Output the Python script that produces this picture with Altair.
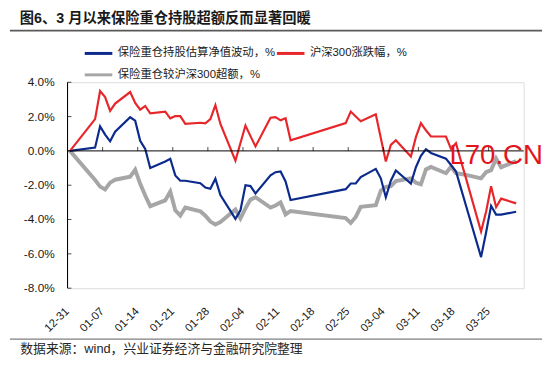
import altair as alt
import pandas as pd

# ---- data (values in %) ----
dates = [
    "2025-12-31",
    "2026-01-05", "2026-01-06", "2026-01-07", "2026-01-08", "2026-01-09",
    "2026-01-12", "2026-01-13", "2026-01-14", "2026-01-15", "2026-01-16",
    "2026-01-19", "2026-01-20", "2026-01-21", "2026-01-22", "2026-01-23",
    "2026-01-26", "2026-01-27", "2026-01-28", "2026-01-29", "2026-01-30",
    "2026-02-02", "2026-02-03", "2026-02-04", "2026-02-05", "2026-02-06",
    "2026-02-09", "2026-02-10", "2026-02-11", "2026-02-12", "2026-02-13",
    "2026-02-24", "2026-02-25", "2026-02-26", "2026-02-27",
    "2026-03-02", "2026-03-03", "2026-03-04", "2026-03-05", "2026-03-06",
    "2026-03-09", "2026-03-10", "2026-03-11", "2026-03-12", "2026-03-13",
    "2026-03-16", "2026-03-17", "2026-03-18", "2026-03-19", "2026-03-20",
    "2026-03-23", "2026-03-24", "2026-03-25", "2026-03-26", "2026-03-27",
    "2026-03-30",
]
blue = [
    0.00,
    0.19, 1.43, 0.95, 0.56, 1.12,
    1.96, 1.76, 0.59, 0.12, -1.00,
    -0.62, -0.46, -1.43, -1.74, -1.74,
    -1.88, -2.14, -2.21, -1.62, -2.57,
    -3.96, -3.46, -2.00, -2.05, -2.48,
    -1.43, -1.24, -1.20, -1.78, -2.86,
    -2.23, -1.90, -1.90, -1.52,
    -1.05, -1.60, -2.70, -1.74, -1.14,
    -1.90, -0.95, -0.29, 0.10, -0.12,
    -0.45, -0.82, -1.20, -2.20, -3.20,
    -6.19, -4.76, -3.20, -3.71, -3.71,
    -3.55,
]
red = [
    0.00,
    1.85, 3.49, 3.14, 2.33, 2.76,
    3.43, 2.79, 2.40, 2.62, 2.19,
    2.29, 1.90, 2.03, 2.03, 1.57,
    1.64, 1.60, 1.85, 2.67, 1.57,
    -0.57, 0.46, 1.48, 0.86, 0.26,
    1.93, 1.97, 1.78, 1.90, 0.62,
    1.62, 2.29, 2.00, 1.73,
    2.13, 0.75, -0.62, 0.35, 0.62,
    -0.33, 0.80, 1.62, 1.20, 0.84,
    0.84, 0.12, 0.45, -0.60, -1.60,
    -4.70, -3.55, -2.06, -3.28, -2.78,
    -3.06,
]
gray = [
    0.00,
    -1.70, -2.08, -2.25, -1.85, -1.68,
    -1.50, -1.10, -1.92, -2.60, -3.22,
    -2.88, -2.37, -3.46, -3.77, -3.30,
    -3.52, -3.78, -4.12, -4.29, -4.15,
    -3.42, -3.93, -3.35, -2.84, -2.70,
    -3.30, -3.18, -3.00, -3.70, -3.50,
    -3.92, -4.20, -3.85, -3.26,
    -3.16, -2.32, -2.10, -2.05, -1.76,
    -1.60, -1.85, -1.95, -1.08, -0.94,
    -1.30, -0.92, -1.30, -1.35, -1.40,
    -1.60, -1.24, -1.12, -0.45, -0.95,
    -0.60,
]
series_names = ["保险重仓持股估算净值波动，%", "沪深300涨跌幅，%", "保险重仓较沪深300超额，%"]
series_colors = ["#0b2a8c", "#e8262a", "#a6a6a6"]
tick_dates = ["2025-12-31", "2026-01-07", "2026-01-14", "2026-01-21", "2026-01-28",
              "2026-02-04", "2026-02-11", "2026-02-18", "2026-02-25", "2026-03-04",
              "2026-03-11", "2026-03-18", "2026-03-25"]
tick_labels = ["12-31", "01-07", "01-14", "01-21", "01-28", "02-04", "02-11",
               "02-18", "02-25", "03-04", "03-11", "03-18", "03-25"]
y_ticks = [-8, -6, -4, -2, 0, 2, 4]
y_labels = ["-8.0%", "-6.0%", "-4.0%", "-2.0%", "0.0%", "2.0%", "4.0%"]
x_range = ["2025-12-31", "2026-04-01"]

title_text = "图6、3 月以来保险重仓持股超额反而显著回暖"
source_text = "数据来源：wind，兴业证券经济与金融研究院整理"
mark_text = "L70.CN"

FONT = "Liberation Sans, Noto Sans CJK SC, sans-serif"

# ---- tables ----
def iso_noon(d):
    return (pd.Timestamp(d) + pd.Timedelta(hours=12)).strftime("%Y-%m-%dT%H:%M:%SZ")

rows = []
# drawing order: gray first (bottom), then blue, then red
for name, vals in [(series_names[2], gray), (series_names[0], blue), (series_names[1], red)]:
    for d, v in zip(dates, vals):
        rows.append({"date": iso_noon(d), "value": v, "series": name})
df = pd.DataFrame(rows)

def ms(d):
    return int(pd.Timestamp(d, tz="UTC").value // 10**6)

ticks_df = pd.DataFrame({"d": [ms(d) for d in tick_dates], "lab": tick_labels,
                         "z": [0] * len(tick_dates)})
yt_df = pd.DataFrame({"v": y_ticks, "lab": y_labels})
zero_df = pd.DataFrame({"v": [0]})
ends_df = pd.DataFrame({"lo": [min(y_ticks)], "hi": [max(y_ticks)]})

x_scale = alt.Scale(type="utc", domain=[ms(x_range[0]), ms(x_range[1])])
y_scale = alt.Scale(domain=[-8, 4], nice=False, zero=False)

W, H = 463, 209
AXIS_COLOR = "black"
LABEL_COLOR = "#1a1a1a"

lines = alt.Chart(df).mark_line(strokeJoin="miter").encode(
    x=alt.X("date:T", scale=x_scale, axis=None),
    y=alt.Y("value:Q", scale=y_scale, axis=None),
    color=alt.Color("series:N", scale=alt.Scale(domain=series_names, range=series_colors),
                    legend=alt.Legend(title=None, orient="none", legendX=16, legendY=-45,
                                      direction="horizontal", columns=2,
                                      symbolType="stroke", symbolSize=784, symbolStrokeWidth=3,
                                      labelFontSize=11.5, labelFont=FONT, labelColor=LABEL_COLOR,
                                      labelOffset=4, columnPadding=-5, rowPadding=-3,
                                      labelLimit=0)),
    strokeWidth=alt.condition(f"datum.series === '{series_names[2]}'", alt.value(4), alt.value(2.2)),
    detail="series:N",
)

# y axis line (-8% .. 4%) at the left edge
y_domain = alt.Chart(ends_df).mark_rule(color=AXIS_COLOR, strokeWidth=1).encode(
    x=alt.value(0),
    y=alt.Y("lo:Q", scale=y_scale, axis=None), y2="hi:Q")

# x axis line at 0%
zero_rule = alt.Chart(zero_df).mark_rule(color=AXIS_COLOR, strokeWidth=1).encode(
    y=alt.Y("v:Q", scale=y_scale, axis=None))

# weekly ticks standing up from the 0% line
x_ticks = alt.Chart(ticks_df).mark_tick(orient="vertical", size=4, thickness=1, color=AXIS_COLOR,
                                        yOffset=-2).encode(
    x=alt.X("d:T", scale=x_scale, axis=None), y=alt.Y("z:Q", scale=y_scale, axis=None))

# y ticks pointing inward
y_tick_marks = alt.Chart(yt_df).mark_tick(orient="horizontal", size=4, thickness=1, color=AXIS_COLOR,
                                          xOffset=2).encode(
    y=alt.Y("v:Q", scale=y_scale, axis=None), x=alt.value(0))

# tick labels
x_tick_labels = alt.Chart(ticks_df).mark_text(angle=315, align="right", baseline="middle",
                                              fontSize=11.5, font=FONT, color=LABEL_COLOR).encode(
    x=alt.X("d:T", scale=x_scale, axis=None), y=alt.value(H + 22), text="lab:N")
y_tick_labels = alt.Chart(yt_df).mark_text(align="right", baseline="middle",
                                           fontSize=12, font=FONT, color=LABEL_COLOR).encode(
    y=alt.Y("v:Q", scale=y_scale, axis=None), x=alt.value(-13), text="lab:N")

def text_layer(txt, x, y, **kw):
    return alt.Chart(pd.DataFrame({"t": [txt]})).mark_text(**kw).encode(
        text="t:N", x=alt.value(x), y=alt.value(y))

PX, PY = 68.4, 80.7  # plot origin in page coords
title = text_layer(title_text, 20 - PX, 20.5 - PY, align="left", baseline="alphabetic",
                   fontSize=14.5, fontWeight="bold", font=FONT, color="#1a1a1a")
source = text_layer(source_text, 20.5 - PX, 351.5 - PY, align="left", baseline="middle",
                    fontSize=13, font=FONT, color="#262626")
wmark = text_layer(mark_text, 456 - PX, 164 - PY, align="left", baseline="alphabetic",
                   fontSize=28, font=FONT, color="#e3141b")

top_rule = alt.Chart(zero_df).mark_rule(color="#595959", strokeWidth=1.8).encode(
    x=alt.value(10 - PX), x2=alt.value(552 - PX), y=alt.value(28.3 - PY))
bot_rule = alt.Chart(zero_df).mark_rule(color="#7f7f7f", strokeWidth=1.2).encode(
    x=alt.value(10 - PX), x2=alt.value(552 - PX), y=alt.value(341.5 - PY))

chart = alt.layer(
    lines, y_domain, zero_rule, x_ticks, y_tick_marks, x_tick_labels, y_tick_labels,
    title, source, wmark, top_rule, bot_rule
).properties(
    width=W, height=H,
    autosize=alt.AutoSizeParams(type="none"),
    padding={"left": PX - 8, "top": PY - 8, "right": 542 - (PX - 8) - W, "bottom": 75},
).configure_view(stroke=None).configure(background="white")

chart.save("out.html", embed_options={"renderer": "svg", "actions": False})
